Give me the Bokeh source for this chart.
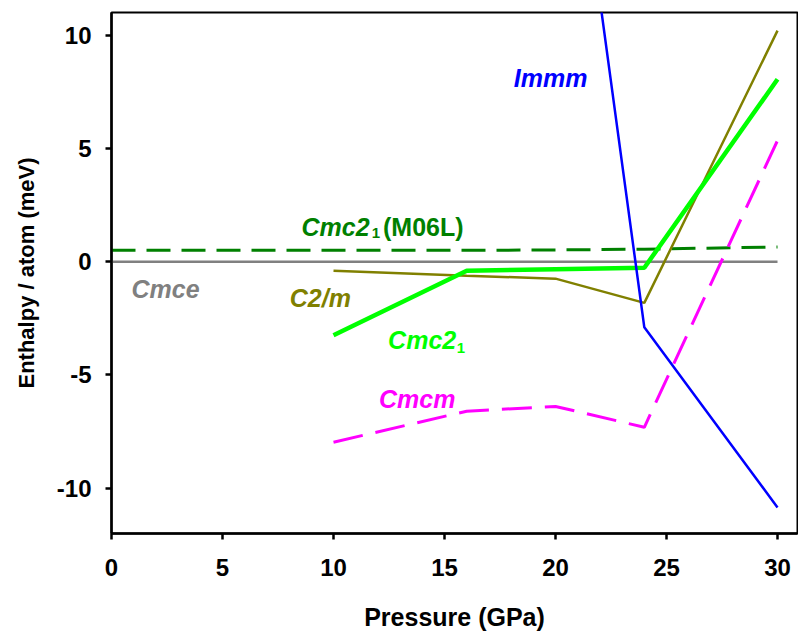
from bokeh.plotting import figure
from bokeh.models import ColumnDataSource, Range1d, FixedTicker, PrintfTickFormatter
from bokeh.core.properties import value
from bokeh.embed import file_html
from bokeh.resources import INLINE

# ---- data ----
cmce_x = [0, 30]
cmce_y = [0.0, 0.0]

m06l_x = [0, 10, 16, 20, 24, 30]
m06l_y = [0.5, 0.5, 0.5, 0.52, 0.55, 0.65]

immm_x = [20, 24, 30]
immm_y = [26.0, -2.9, -10.85]

pressure = [10, 16, 20, 24, 30]
c2m_y = [-0.4, -0.62, -0.75, -1.82, 10.2]
cmc21_y = [-3.25, -0.4, -0.33, -0.27, 8.05]
cmcm_y = [-7.97, -6.6, -6.39, -7.31, 5.35]

x_ticks = [0, 5, 10, 15, 20, 25, 30]
y_ticks = [-10, -5, 0, 5, 10]

# annotation labels
lab_text = ["Immm", "Cmc2", "Cmce", "C2/m", "Cmc2", "Cmcm"]
lab_x = [18.12, 8.56, 0.9, 8.03, 12.46, 12.05]
lab_y = [8.11, 1.54, -1.20, -1.62, -3.47, -6.05]
lab_color = ["#0000FF", "#008000", "#808080", "#808000", "#00FF00", "#FF00FF"]

sub_text = ["1", "1"]
sub_x = [11.72, 15.55]
sub_y = [1.26, -3.83]
sub_color = ["#008000", "#00FF00"]

extra_text = ["(M06L)"]
extra_x = [12.23]
extra_y = [1.54]

FONT = "Liberation Sans"

p = figure(frame_width=686, frame_height=521, width=798, height=632,
           x_range=Range1d(0, 30.9), y_range=Range1d(-12, 11),
           output_backend="svg", toolbar_location=None,
           min_border_left=111, min_border_top=12, min_border_right=1,
           min_border_bottom=99)

p.grid.visible = False
p.outline_line_color = "black"
p.outline_line_width = 2
p.background_fill_color = "white"

p.line(cmce_x, cmce_y, line_color="#808080", line_width=2.5)
p.line(m06l_x, m06l_y, line_color="#008000", line_width=3, line_dash="24 11")
p.line(pressure, c2m_y, line_color="#808000", line_width=2.5)
p.line(pressure, cmc21_y, line_color="#00FF00", line_width=4.5)
p.line(pressure, cmcm_y, line_color="#FF00FF", line_width=3, line_dash="30 13")
p.line(immm_x, immm_y, line_color="#0000FF", line_width=2.5)

lab_src = ColumnDataSource(dict(x=lab_x, y=lab_y, t=lab_text, c=lab_color))
p.text(x="x", y="y", text="t", text_color="c", source=lab_src,
       text_font=value(FONT), text_font_style="bold italic",
       text_font_size="25px", text_align="left", text_baseline="alphabetic")

sub_src = ColumnDataSource(dict(x=sub_x, y=sub_y, t=sub_text, c=sub_color))
p.text(x="x", y="y", text="t", text_color="c", source=sub_src,
       text_font=value(FONT), text_font_style="bold",
       text_font_size="15px", text_align="left", text_baseline="alphabetic")

ex_src = ColumnDataSource(dict(x=extra_x, y=extra_y, t=extra_text))
p.text(x="x", y="y", text="t", text_color="#008000", source=ex_src,
       text_font=value(FONT), text_font_style="bold",
       text_font_size="25px", text_align="left", text_baseline="alphabetic")

# axes
for ax in (p.xaxis[0], p.yaxis[0]):
    ax.axis_line_width = 2.5
    ax.axis_line_color = "black"
    ax.major_tick_line_width = 2.5
    ax.major_tick_out = 6
    ax.major_tick_in = 0
    ax.minor_tick_out = 0
    ax.minor_tick_in = 0
    ax.major_label_text_font = FONT
    ax.major_label_text_font_style = "bold"
    ax.major_label_text_font_size = "24px"
    ax.major_label_text_color = "black"
    ax.axis_label_text_font = FONT
    ax.axis_label_text_font_style = "bold"
    ax.axis_label_text_color = "black"
    ax.formatter = PrintfTickFormatter(format="%d")

p.xaxis.ticker = FixedTicker(ticks=x_ticks)
p.yaxis.ticker = FixedTicker(ticks=y_ticks)
p.xaxis.axis_label = "Pressure (GPa)"
p.yaxis.axis_label = "Enthalpy / atom (meV)"
p.xaxis.axis_label_text_font_size = "25px"
p.yaxis.axis_label_text_font_size = "22px"
p.xaxis.major_label_standoff = 19
p.yaxis.major_label_standoff = 14
p.xaxis.axis_label_standoff = 24
p.yaxis.axis_label_standoff = 15

open("out.html", "w").write(file_html(p, INLINE))
